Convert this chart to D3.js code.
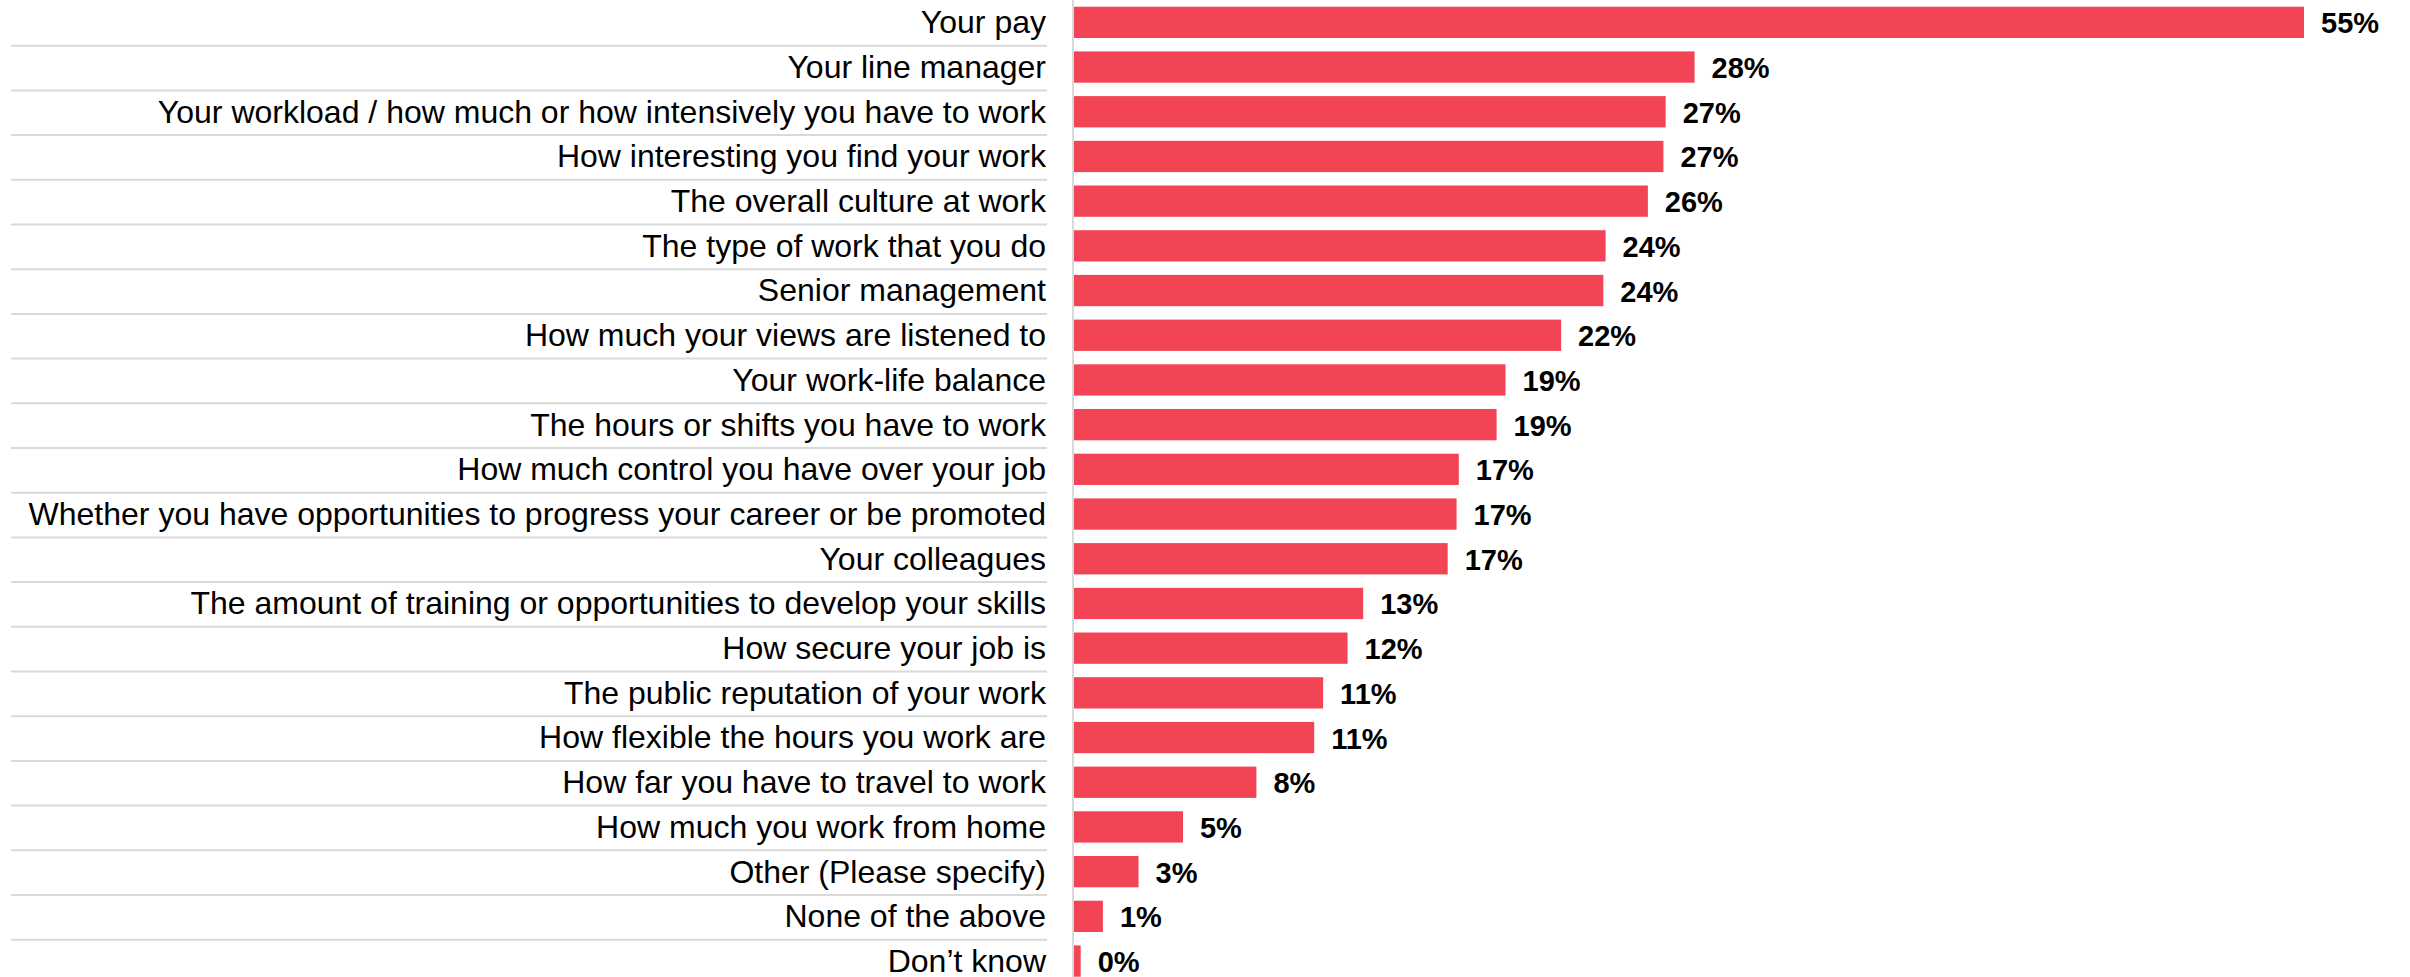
<!DOCTYPE html>
<html>
<head>
<meta charset="utf-8">
<script src="https://cdn.jsdelivr.net/npm/d3@7"></script>
<style>
  html, body { margin: 0; padding: 0; background: #ffffff; }
  svg { display: block; }
</style>
</head>
<body>
<div id="chart"></div>
<script>
const categories = [
  "Your pay",
  "Your line manager",
  "Your workload / how much or how intensively you have to work",
  "How interesting you find your work",
  "The overall culture at work",
  "The type of work that you do",
  "Senior management",
  "How much your views are listened to",
  "Your work-life balance",
  "The hours or shifts you have to work",
  "How much control you have over your job",
  "Whether you have opportunities to progress your career or be promoted",
  "Your colleagues",
  "The amount of training or opportunities to develop your skills",
  "How secure your job is",
  "The public reputation of your work",
  "How flexible the hours you work are",
  "How far you have to travel to work",
  "How much you work from home",
  "Other (Please specify)",
  "None of the above",
  "Don\u2019t know"
];
const values = [55.3, 27.9, 26.6, 26.5, 25.8, 23.9, 23.8, 21.9, 19.4, 19.0, 17.3, 17.2, 16.8, 13.0, 12.3, 11.2, 10.8, 8.2, 4.9, 2.9, 1.3, 0.3];

const W = 2410, H = 977;
const data = categories.map((c, i) => ({ cat: c, val: values[i] }));

const svg = d3.select("#chart").append("svg")
  .attr("width", W).attr("height", H)
  .style("background", "#ffffff");

const x0 = 1074;
const x = d3.scaleLinear().domain([0, 55.3]).range([x0, 2304]);
const y = d3.scaleBand().domain(categories).range([0, 44.7 * categories.length]).paddingInner(0.3).paddingOuter(0.15);
const step = y.step();
const gap = (step - y.bandwidth()) / 2;

// separator gridlines between label rows
svg.append("g").selectAll("line")
  .data(categories.slice(1))
  .join("line")
  .attr("x1", 11).attr("x2", 1047)
  .attr("y1", d => y(d) - gap + 1)
  .attr("y2", d => y(d) - gap + 1)
  .attr("stroke", "#d9d9d9").attr("stroke-width", 2);

// bars
svg.append("g").selectAll("rect")
  .data(data)
  .join("rect")
  .attr("x", x(0))
  .attr("y", d => y(d.cat))
  .attr("width", d => x(d.val) - x(0))
  .attr("height", y.bandwidth())
  .attr("fill", "#f24455");

// vertical axis line
svg.append("line")
  .attr("x1", x0 - 1).attr("x2", x0 - 1)
  .attr("y1", 0).attr("y2", H)
  .attr("stroke", "#d9d9d9").attr("stroke-width", 2);

// category labels
svg.append("g").selectAll("text")
  .data(data)
  .join("text")
  .attr("x", 1046)
  .attr("y", d => y(d.cat) + y.bandwidth() / 2)
  .attr("dy", "0.34em")
  .attr("text-anchor", "end")
  .attr("font-family", "Liberation Sans, Arial, sans-serif")
  .attr("font-size", 32)
  .attr("fill", "#000")
  .text(d => d.cat);

// value labels
svg.append("g").selectAll("text")
  .data(data)
  .join("text")
  .attr("x", d => x(d.val) + 17)
  .attr("y", d => y(d.cat) + y.bandwidth() / 2)
  .attr("dy", "0.38em")
  .attr("font-family", "Liberation Sans, Arial, sans-serif")
  .attr("font-size", 29)
  .attr("font-weight", "bold")
  .attr("fill", "#000")
  .text(d => Math.round(d.val) + "%");
</script>
</body>
</html>
